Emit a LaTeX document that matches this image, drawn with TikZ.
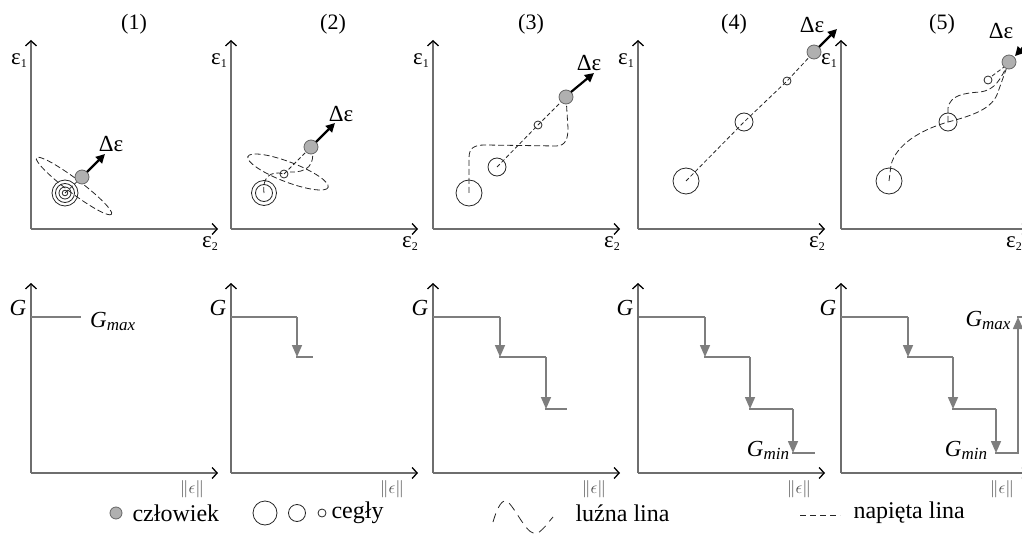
\documentclass[tikz,border=0pt]{standalone}
\usepackage{fontspec}
\setmainfont{Liberation Serif}
\usetikzlibrary{arrows.meta}
\definecolor{axc}{HTML}{6E6E6E}
\definecolor{stc}{HTML}{7E7E7E}
\definecolor{hum}{HTML}{B0B0B0}
\begin{document}
\begin{tikzpicture}[x=1pt,y=-1pt,
  axisline/.style={draw=axc, line width=1.4pt, -{Straight Barb[color=black,length=5pt,width=11pt,line width=1.3pt]}},
  stepl/.style={draw=stc, line width=1.6pt},
  steparr/.style={draw=stc, line width=1.6pt, -{Triangle[length=12pt,width=10pt,fill=stc,color=stc]}},
  rope/.style={draw=black!85, line width=0.8pt, dash pattern=on 6pt off 3pt},
  tightrope/.style={draw=black!85, line width=0.8pt, dash pattern=on 4pt off 2.5pt},
  brick/.style={circle, draw=black!85, line width=0.8pt, inner sep=0pt, minimum size=#1},
  human/.style={circle, draw=black!60, fill=hum, line width=0.8pt, inner sep=0pt, minimum size=14pt},
  darr/.style={draw=black, line width=2.2pt, -{Triangle[length=9pt,width=9pt]}},
  ttl/.style={font=\fontsize{22}{22}\selectfont},
  lbl/.style={font=\fontsize{23}{23}\selectfont},
  glbl/.style={font=\fontsize{23}{23}\selectfont\itshape},
  nlbl/.style={font=\fontsize{17}{17}\selectfont, text=black!70},
  leg/.style={font=\fontsize{24}{24}\selectfont, anchor=west}
]
\useasboundingbox (0,0) rectangle (1022,548);
\begin{scope}
\clip (0,0) rectangle (1022,548);
% ---------- axes ----------
\foreach \ox/\n/\tx in {31/1/134, 231/2/333, 433/3/531, 638/4/734, 841/5/942}{
  \coordinate (o\n) at (\ox,229);
  \coordinate (y\n) at (\ox,40);
  \coordinate (x\n) at (\ox+187,229);
  \draw[axisline] (o\n) -- (y\n);
  \draw[axisline] (o\n) -- (x\n);
  \node[lbl] (e1\n) at (\ox-12,61) {ε\raisebox{-3pt}{\fontsize{12}{12}\selectfont 1}};
  \node[ttl] (t\n) at (\tx,24) {(\n)};
  \coordinate (bo\n) at (\ox,473);
  \coordinate (by\n) at (\ox,283);
  \coordinate (bx\n) at (\ox+187,473);
  \draw[axisline] (bo\n) -- (by\n);
  \draw[axisline] (bo\n) -- (bx\n);
  \node[glbl] (G\n) at (\ox-13,308) {G};
  \node[nlbl] (n\n) at (\ox+161,489) {$\|\epsilon\|$};
}
\foreach \ox/\n in {31/1, 231/2, 433/3, 638/4}{
  \node[lbl] (e2\n) at (\ox+179,244) {ε\raisebox{-3pt}{\fontsize{12}{12}\selectfont 2}};
}
\node[lbl, anchor=east, inner sep=0pt] (e25) at (1022,244) {ε\raisebox{-3pt}{\fontsize{12}{12}\selectfont 2}};
% ---------- panel 1 ----------
\draw[rope, rotate around={-37:(74,186)}] (74,186) ellipse [x radius=47, y radius=7];
\node[brick=26pt] (p1b) at (65,193) {};
\draw[black!85, line width=0.8pt] (65,193) circle [radius=9.5] circle [radius=6] circle [radius=2.8];
\draw[tightrope] (p1b.center) -- (82,177);
\node[human] (p1h) at (82,177) {};
\coordinate (p1a) at (105,154);
\draw[darr] (p1h.center) ++(5,-5) -- (p1a);
\node[lbl] (p1d) at (111,144) {Δε};
% ---------- panel 2 ----------
\draw[rope, rotate around={-21:(288,172)}] (288,172) ellipse [x radius=43, y radius=10];
\node[brick=25pt] (p2b) at (264,193) {};
\draw[black!85, line width=0.8pt] (264,193) circle [radius=8.5];
\node[brick=8pt] (p2s) at (284,174) {};
\draw[rope] (p2b.center) .. controls (262,178) and (270,170) .. (p2s.center);
\draw[tightrope] (p2s.center) -- (311,147);
\draw[rope] (311,147) .. controls (317,165) and (306,173) .. (290,172);
\node[human] (p2h) at (311,147) {};
\coordinate (p2a) at (335,123);
\draw[darr] (p2h.center) ++(5,-5) -- (p2a);
\node[lbl] (p2d) at (341,114) {Δε};
% ---------- panel 3 ----------
\node[brick=26pt] (p3L) at (469,193) {};
\node[brick=18pt] (p3M) at (497,167) {};
\node[brick=8pt] (p3S) at (538,125) {};
\draw[rope] (p3L.center) -- (469,158) .. controls (469,148) and (474,145) .. (485,145)
  -- (556,146) .. controls (566,146) and (568,138) .. (568,128) -- (566,97);
\draw[tightrope] (p3M.center) -- (p3S.center) -- (566,97);
\node[human] (p3h) at (566,97) {};
\coordinate (p3a) at (594,73);
\draw[darr] (p3h.center) ++(5,-5) -- (p3a);
\node[lbl] (p3d) at (589,63) {Δε};
% ---------- panel 4 ----------
\node[brick=26pt] (p4L) at (686,181) {};
\node[brick=18pt] (p4M) at (744,122) {};
\node[brick=8pt] (p4S) at (787,81) {};
\draw[tightrope] (p4L.center) -- (p4M.center) -- (p4S.center) -- (814,52);
\node[human] (p4h) at (814,52) {};
\coordinate (p4a) at (837,29);
\draw[darr] (p4h.center) ++(5,-5) -- (p4a);
\node[lbl] (p4d) at (812,25) {Δε};
% ---------- panel 5 ----------
\node[brick=26pt] (p5L) at (889,181) {};
\node[brick=18pt] (p5M) at (948,122) {};
\node[brick=8pt] (p5S) at (988,80) {};
\draw[rope] (p5L.center) -- (891,165) .. controls (896,145) and (920,130) .. (p5M.center)
  .. controls (975,115) and (993,108) .. (998,92) -- (1008,64);
\draw[rope] (p5M.center) -- (948,108) .. controls (950,95) and (965,93) .. (980,92)
  .. controls (995,90) and (1000,80) .. (1008,64);
\draw[tightrope] (992,76) -- (1008,64);
\node[human] (p5h) at (1009,62) {};
\coordinate (p5a) at (1030,40);
\draw[darr] (p5a) -- (1015,56);
\node[lbl] (p5d) at (1001,31) {Δε};
% ---------- bottom step plots ----------
% panel 1
\draw[stepl] (31,317) -- (81,317);
\node[glbl, anchor=west, inner sep=0pt] (gm1) at (90,321) {G\raisebox{-3pt}{\fontsize{17}{17}\selectfont max}};
% panel 2
\draw[stepl] (231,317) -- (297,317);
\draw[steparr] (297,317) -- (297,357);
\draw[stepl] (296,357) -- (313,357);
% panel 3
\draw[stepl] (433,317) -- (500,317);
\draw[steparr] (500,317) -- (500,357);
\draw[stepl] (499,357) -- (546,357);
\draw[steparr] (546,357) -- (546,409);
\draw[stepl] (545,409) -- (567,409);
% panel 4
\draw[stepl] (639,317) -- (705,317);
\draw[steparr] (705,317) -- (705,357);
\draw[stepl] (704,357) -- (750,357);
\draw[steparr] (750,357) -- (750,409);
\draw[stepl] (749,409) -- (793,409);
\draw[steparr] (793,409) -- (793,453);
\draw[stepl] (792,453) -- (815,453);
\node[glbl] (gn4) at (768,450) {G\raisebox{-3pt}{\fontsize{17}{17}\selectfont min}};
% panel 5
\draw[stepl] (841,317) -- (908,317);
\draw[steparr] (908,317) -- (908,357);
\draw[stepl] (907,357) -- (953,357);
\draw[steparr] (953,357) -- (953,409);
\draw[stepl] (952,409) -- (996,409);
\draw[steparr] (996,409) -- (996,453);
\draw[stepl] (995,453) -- (1018,453);
\draw[steparr] (1018,454) -- (1018,317);
\draw[stepl] (1017,317) -- (1025,317);
\node[glbl] (gn5) at (966,450) {G\raisebox{-3pt}{\fontsize{17}{17}\selectfont min}};
\node[glbl] (gx5) at (988,320) {G\raisebox{-3pt}{\fontsize{17}{17}\selectfont max}};
% ---------- legend ----------
\node[human, minimum size=12pt] (lh) at (116,513) {};
\node[leg] (lt1) at (129,513) {człowiek};
\node[brick=24pt] (lb1) at (265,513) {};
\node[brick=17pt] (lb2) at (297,513) {};
\node[brick=8pt] (lb3) at (322,513) {};
\node[leg] (lt2) at (328,513) {cegły};
\coordinate (w0) at (493,522);
\draw[rope, dash pattern=on 9pt off 6pt] (w0) .. controls (498,505) and (503,498) .. (508,502)
  .. controls (518,512) and (528,538) .. (538,533) .. controls (545,528) and (550,520) .. (553,517);
\node[leg] (lt3) at (572,513) {luźna lina};
\coordinate (d0) at (800,515);
\coordinate (d1) at (840,515);
\draw[tightrope, dash pattern=on 6pt off 4pt] (d0) -- (d1);
\node[leg] (lt4) at (850,513) {napięta lina};
\end{scope}
\end{tikzpicture}
\end{document}
